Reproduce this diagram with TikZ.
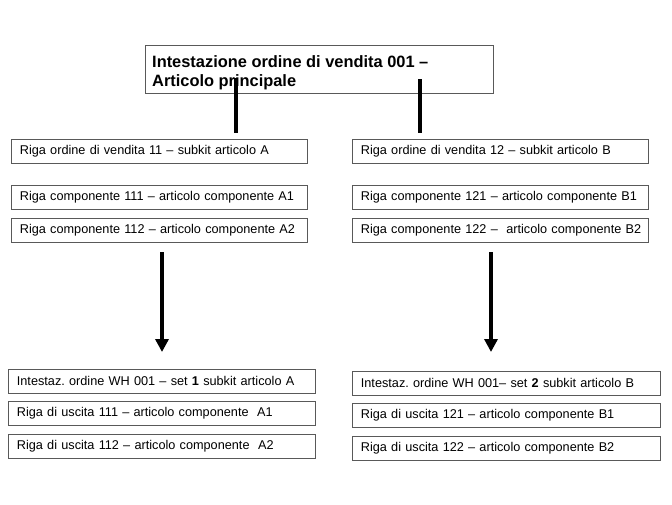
\documentclass[tikz,border=0pt]{standalone}
\usepackage{fontspec}
\setmainfont{Liberation Sans}
\usetikzlibrary{arrows.meta,calc}
\frenchspacing
\begin{document}
\begin{tikzpicture}[x=1pt,y=-1pt,
  rowbox/.style={draw=black!65, line width=0.8pt, fill=white, anchor=north west,
    inner xsep=8.5pt, inner ysep=0pt, align=left, font=\fontsize{12.7}{15}\selectfont},
  topbox/.style={draw=black!65, line width=0.8pt, fill=white, anchor=north west,
    inner sep=0pt},
  toptextstyle/.style={anchor=north west, inner sep=0pt, align=left,
    font=\bfseries\fontsize{16.4}{19}\selectfont},
  thickline/.style={line width=4pt},
  bigarrow/.style={line width=4pt, -{Triangle[width=13pt,length=13pt]}}]
\useasboundingbox (0,0) rectangle (672,504);

\node[topbox, minimum width=348pt, minimum height=48pt] (top) at (145,45) {};
\node[toptextstyle] (toptext) at ($(top.north west)+(7,10.5)$)
  {Intestazione ordine di vendita 001 –\\Articolo principale};

\node[rowbox, text width=279pt, minimum height=24pt] (r1a) at (11,139) {\mbox{Riga ordine di vendita 11 – subkit articolo A}};
\node[rowbox, text width=279pt, minimum height=24pt] (r2a) at (11,185) {\mbox{Riga componente 111 – articolo componente A1}};
\node[rowbox, text width=279pt, minimum height=24pt] (r3a) at (11,218) {\mbox{Riga componente 112 – articolo componente A2}};

\node[rowbox, text width=279pt, minimum height=24pt] (r1b) at (352,139) {\mbox{Riga ordine di vendita 12 – subkit articolo B}};
\node[rowbox, text width=279pt, minimum height=24pt] (r2b) at (352,185) {\mbox{Riga componente 121 – articolo componente B1}};
\node[rowbox, text width=279pt, minimum height=24pt] (r3b) at (352,218) {\mbox{Riga componente 122 – \ articolo componente B2}};

\node[rowbox, text width=290pt, minimum height=24pt] (b1a) at (8,369) {\mbox{Intestaz. ordine WH 001 – set \textbf{1} subkit articolo A}};
\node[rowbox, text width=290pt, minimum height=24pt] (b2a) at (8,401) {\mbox{Riga di uscita 111 – articolo componente \ A1}};
\node[rowbox, text width=290pt, minimum height=24pt] (b3a) at (8,434) {\mbox{Riga di uscita 112 – articolo componente \ A2}};

\node[rowbox, text width=291pt, minimum height=24pt] (b1b) at (352,371) {\mbox{Intestaz. ordine WH 001– set \textbf{2} subkit articolo B}};
\node[rowbox, text width=291pt, minimum height=24pt] (b2b) at (352,403) {\mbox{Riga di uscita 121 – articolo componente B1}};
\node[rowbox, text width=291pt, minimum height=24pt] (b3b) at (352,436) {\mbox{Riga di uscita 122 – articolo componente B2}};

\coordinate (tl) at (236,78);
\coordinate (tr) at (420,79);
\draw[thickline] (tl) -- ($(tl |- r1a.north)+(0,-6)$);
\draw[thickline] (tr) -- ($(tr |- r1b.north)+(0,-6)$);

\coordinate (al) at (162,252);
\coordinate (ar) at (491,252);
\draw[bigarrow] (al) -- ($(al |- b1a.north)+(0,-17)$);
\draw[bigarrow] (ar) -- ($(ar |- b1b.north)+(0,-19)$);
\end{tikzpicture}
\end{document}
